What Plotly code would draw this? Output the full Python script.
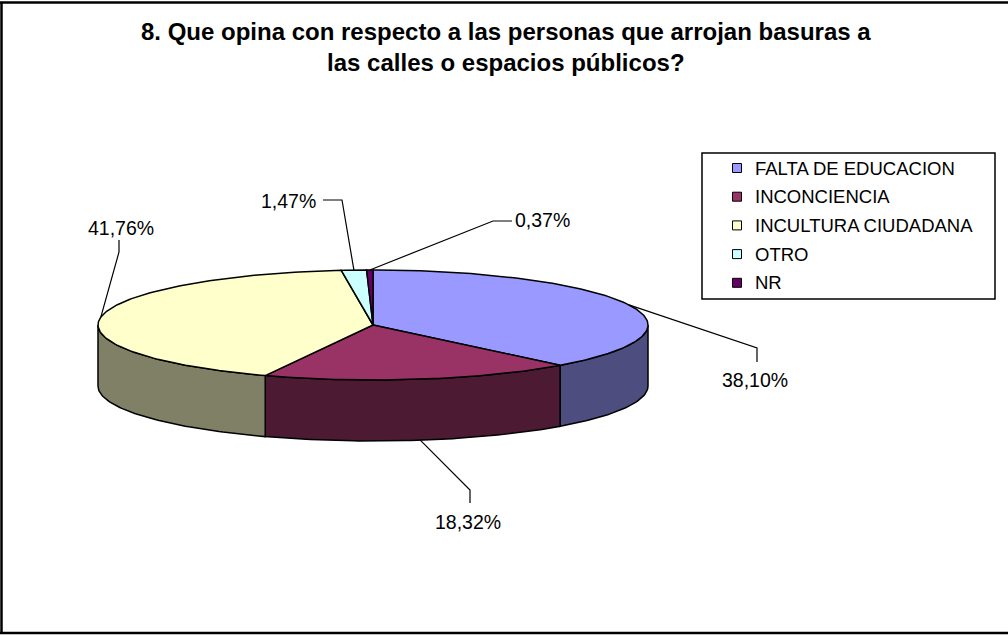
import numpy as np
import plotly.graph_objects as go

# ---------------- data ----------------
categories = ["FALTA DE EDUCACION", "INCONCIENCIA", "INCULTURA CIUDADANA", "OTRO", "NR"]
values = [38.10, 18.32, 41.76, 1.47, 0.37]
title_lines = ["8. Que opina con respecto a las personas que arrojan basuras a",
               "las calles o espacios públicos?"]

# ---------------- style / layout ----------------
top_colors = ["#9999FF", "#993366", "#FFFFCC", "#CCFFFF", "#660066"]
side_colors = ["#4D4D80", "#4D1A33", "#808066", "#668080", "#330033"]
W, H = 1008, 635
CX, CY, RX, RY, DEPTH = 373, 325, 275, 55, 61
FONT = "Liberation Sans"

# label text position and leader elbow points (from label side toward slice)
label_layout = [
    dict(tx=755, ty=380, anchor="center", elbow=[(757, 362), (757, 348)]),
    dict(tx=468, ty=522, anchor="center", elbow=[(470, 503), (470, 490)]),
    dict(tx=121, ty=228, anchor="center", elbow=[(119, 240), (119, 252)]),
    dict(tx=318, ty=201, anchor="right", elbow=[(323, 200), (342, 200)]),
    dict(tx=513, ty=220, anchor="left", elbow=[(512, 221), (493, 221)]),
]
LEG_X0, LEG_X1, LEG_Y0, LEG_Y1 = 702, 995, 153, 299
LEG_ITEM_Y0, LEG_ITEM_DY = 168, 28.7

# ---------------- geometry from data ----------------
total = sum(values)
fracs = np.array(values) / total
ends = np.cumsum(fracs) * 360.0
starts = ends - fracs * 360.0


def pt(theta, dy=0.0):
    t = np.radians(theta)
    return CX + RX * np.sin(t), CY - RY * np.cos(t) + dy


def arc(a, b, dy=0.0):
    n = max(int(abs(b - a) / 1.0) + 2, 3)
    th = np.linspace(a, b, n)
    xs, ys = pt(th, dy)
    return list(xs), list(ys)


fig = go.Figure()

# side faces (front half only: 90..270 deg clockwise from top)
for i in range(len(values)):
    a = max(starts[i], 90.0)
    b = min(ends[i], 270.0)
    if a < b:
        x1, y1 = arc(a, b)
        x2, y2 = arc(b, a, DEPTH)
        fig.add_trace(go.Scatter(
            x=x1 + x2 + [x1[0]], y=y1 + y2 + [y1[0]], mode="lines",
            fill="toself", fillcolor=side_colors[i],
            line=dict(color="black", width=1.5), hoverinfo="skip", showlegend=False))

# top faces
for i in range(len(values)):
    xa, ya = arc(starts[i], ends[i])
    fig.add_trace(go.Scatter(
        x=[CX] + xa + [CX], y=[CY] + ya + [CY], mode="lines",
        fill="toself", fillcolor=top_colors[i],
        line=dict(color="black", width=1.5), hoverinfo="skip", showlegend=False))

# labels and leader lines
annotations = []
for i, v in enumerate(values):
    mid = (starts[i] + ends[i]) / 2.0
    dy = DEPTH if 90.0 < mid < 270.0 else 0.0
    ax, ay = pt(mid, dy)
    lay = label_layout[i]
    pts = lay["elbow"] + [(ax, ay)]
    fig.add_trace(go.Scatter(
        x=[p[0] for p in pts], y=[p[1] for p in pts], mode="lines",
        line=dict(color="black", width=1.2), hoverinfo="skip", showlegend=False))
    annotations.append(dict(
        x=lay["tx"], y=lay["ty"], xref="x", yref="y",
        text=f"{v:.2f}".replace(".", ",") + "%", showarrow=False,
        xanchor=lay["anchor"], yanchor="middle",
        font=dict(family=FONT, size=19.5, color="black")))

# legend (drawn)
leg_y = [LEG_ITEM_Y0 + k * LEG_ITEM_DY for k in range(len(categories))]
fig.add_trace(go.Scatter(
    x=[737] * len(categories), y=leg_y, mode="markers",
    marker=dict(symbol="square", size=9, color=top_colors, line=dict(color="black", width=1)),
    hoverinfo="skip", showlegend=False))
for k, c in enumerate(categories):
    annotations.append(dict(
        x=753, y=leg_y[k], xref="x", yref="y", text=c, showarrow=False,
        xanchor="left", yanchor="middle",
        font=dict(family=FONT, size=18.5, color="black")))

# title
annotations.append(dict(
    x=506, y=47, xref="x", yref="y",
    text="<b>" + title_lines[0] + "</b><br><b>" + title_lines[1] + "</b>",
    showarrow=False, xanchor="center", yanchor="middle", align="center",
    font=dict(family=FONT, size=24, color="black")))

shapes = [
    dict(type="rect", xref="x", yref="y", x0=LEG_X0, x1=LEG_X1, y0=LEG_Y0, y1=LEG_Y1,
         line=dict(color="black", width=1.5)),
    dict(type="line", xref="x", yref="y", x0=1.5, x1=1.5, y0=2, y1=633,
         line=dict(color="black", width=2.5)),
    dict(type="line", xref="x", yref="y", x0=0, x1=1010, y0=2.5, y1=2.5,
         line=dict(color="black", width=2.5)),
    dict(type="line", xref="x", yref="y", x0=0, x1=1010, y0=633, y1=633,
         line=dict(color="black", width=2.5)),
]

fig.update_layout(
    width=W, height=H, margin=dict(l=0, r=0, t=0, b=0),
    paper_bgcolor="white", plot_bgcolor="white",
    xaxis=dict(range=[0, W], visible=False, fixedrange=True),
    yaxis=dict(range=[H, 0], visible=False, fixedrange=True),
    annotations=annotations, shapes=shapes, showlegend=False,
)

fig.write_html(
    "out.html",
    config={"displayModeBar": False},
    post_script="document.body.style.margin='0';document.body.style.overflow='hidden';",
)
